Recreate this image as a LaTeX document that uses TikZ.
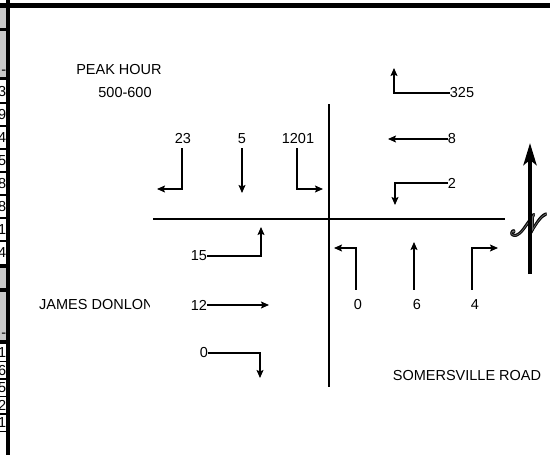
\documentclass[tikz,border=0pt]{standalone}
\usepackage{fontspec}
\setmainfont{Liberation Sans}
\usepackage{mathrsfs}
\usetikzlibrary{arrows.meta}
\definecolor{cellgray}{RGB}{200,200,200}
\newcommand{\northglyph}{\scalebox{1.2}{\fontsize{24.88}{25}\selectfont$\mathscr{N}$}}
\begin{document}
\begin{tikzpicture}[x=1pt,y=-1pt,
  lab/.style={font=\fontsize{14.5}{16}\selectfont, inner sep=0pt},
  flow/.style={line width=1.1pt, -{Stealth[length=8pt,width=7pt,inset=1.5pt]}},
  road/.style={line width=1.8pt},
  sep/.style={line width=1.2pt},
  thicksep/.style={line width=3.5pt},
  celltxt/.style={font=\fontsize{14.5}{16}\selectfont, inner sep=0pt, anchor=east},
]
\useasboundingbox (0,0) rectangle (550,455);
\fill[white] (0,0) rectangle (550,455);

% --- cropped table at the left edge ---
\fill[cellgray] (0,7) rectangle (8,28);
\fill[cellgray] (0,31) rectangle (8,77);
\node[celltxt] (dashA) at (6.5,72) {-};
\draw[thicksep] (0,29.5) -- (8,29.5);
\draw[thicksep] (0,78.5) -- (8,78.5);
\foreach \d [count=\i from 0] in {3,9,4,5,8,8,1,4} {
  \node[celltxt] (ra\i) at (6.5,{92+23*\i}) {\d};
}
\foreach \i in {1,...,7} { \draw[sep] (0,{80+23*\i}) -- (8,{80+23*\i}); }
\draw[thicksep] (0,266) -- (8,266);
\fill[cellgray] (0,268) rectangle (8,288);
\draw[thicksep] (0,290) -- (8,290);
\fill[cellgray] (0,292) rectangle (8,340);
\node[celltxt] (dashB) at (6.5,335) {-};
\draw[thicksep] (0,342) -- (8,342);
\foreach \d [count=\i from 0] in {1,6,5,2,1} {
  \node[celltxt] (rb\i) at (6.5,{353+17.5*\i}) {\d};
}
\foreach \i in {1,...,5} { \draw[sep] (0,{344+17.5*\i}) -- (8,{344+17.5*\i}); }

% --- frame ---
\draw[line width=4.5pt] (0,5.5) -- (550,5.5);
\draw[line width=3.5pt] (7.8,0) -- (7.8,455);

% --- roads ---
\coordinate (vTop) at (329,104);
\coordinate (vBot) at (329,387);
\coordinate (hL) at (153,219);
\coordinate (hR) at (505,219);
\draw[road] (vTop) -- (vBot);
\draw[road] (hL) -- (hR);

% --- titles ---
\node[lab] (peak) at (119,70) {PEAK HOUR};
\node[lab] (time) at (125,93) {500-600};
\begin{scope}
  \clip (30,290) rectangle (149.5,320);
  \node[lab,anchor=west] (james) at (39,305) {JAMES DONLON};
\end{scope}
\node[lab] (somers) at (467,376) {SOMERSVILLE ROAD};

% --- right approach (top right) ---
\node[lab] (n325) at (462,93) {325};
\coordinate (t325) at (394,68);
\draw[flow] (n325.west) -| (t325);
\node[lab] (n8) at (452,139) {8};
\coordinate (t8) at (388,139);
\draw[flow] (n8.west) -- (t8);
\node[lab] (n2) at (452,183) {2};
\coordinate (t2) at (395,205);
\draw[flow] (n2.west) -| (t2);

% --- top approach (top left) ---
\node[lab] (n23) at (183,139) {23};
\coordinate (t23) at (157,189);
\draw[flow] ([shift={(-1pt,-4pt)}]n23.south) |- (t23);
\node[lab] (n5) at (242,139) {5};
\coordinate (t5) at (242,193);
\draw[flow] ([yshift=-4pt]n5.south) -- (t5);
\node[lab] (n1201) at (298,139) {1201};
\coordinate (t1201) at (323,189);
\draw[flow] ([shift={(-1pt,-4pt)}]n1201.south) |- (t1201);

% --- left approach ---
\node[lab] (n15) at (199,256) {15};
\coordinate (t15) at (261,227);
\draw[flow] (n15.east) -| (t15);
\node[lab] (n12) at (199,305) {12};
\coordinate (t12) at (269,305);
\draw[flow] (n12.east) -- (t12);
\node[lab] (n0w) at (204,353) {0};
\coordinate (t0w) at (260,378);
\draw[flow] (n0w.east) -| (t0w);

% --- bottom approach ---
\node[lab] (n0s) at (358,305) {0};
\coordinate (t0s) at (334,248);
\draw[flow] ([shift={(-2pt,10pt)}]n0s.north) |- (t0s);
\node[lab] (n6) at (417,305) {6};
\coordinate (t6) at (414,242);
\draw[flow] ([shift={(-3pt,10pt)}]n6.north) -- (t6);
\node[lab] (n4) at (475,305) {4};
\coordinate (t4) at (498,248);
\draw[flow] ([shift={(-3pt,10pt)}]n4.north) |- (t4);

% --- north arrow ---
\foreach \dx/\dy in {0.8/0,-0.8/0,0/0.8,0/-0.8,0.6/0.6,-0.6/0.6,0.6/-0.6,-0.6/-0.6} {
  \node[inner sep=0pt, text=black] at ([shift={(\dx pt,\dy pt)}]529,225) {\northglyph};
}
\node[inner sep=0pt, text=black!55] (northN) at (529,225) {\northglyph};
\coordinate (nBot) at (530,274);
\coordinate (nTip) at (530,143);
\draw[line width=4pt, -{Stealth[length=22pt,width=13pt,inset=5pt]}] (nBot) -- (nTip);
\end{tikzpicture}
\end{document}
